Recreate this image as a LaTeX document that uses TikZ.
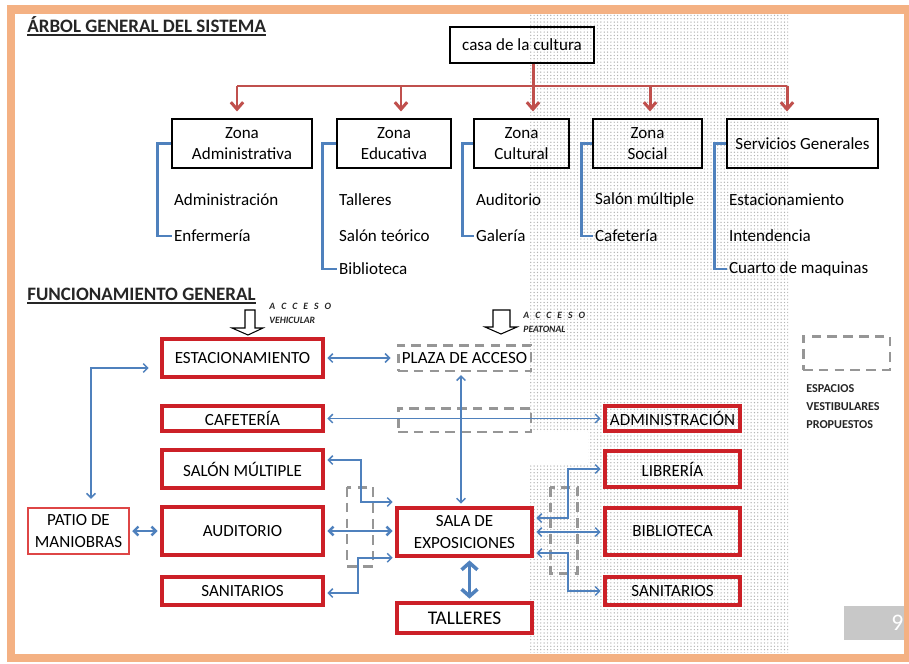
\documentclass[tikz,border=0pt]{standalone}
\usepackage{fontspec}
\setmainfont{Carlito}
\usetikzlibrary{arrows.meta,patterns.meta}
\definecolor{marco}{RGB}{244,177,131}
\definecolor{rojoarbol}{RGB}{192,80,77}
\definecolor{azulflujo}{RGB}{79,129,189}
\definecolor{rojoesp}{RGB}{204,32,39}
\definecolor{rojopatio}{RGB}{222,70,70}
\definecolor{grisvest}{RGB}{150,150,150}
\definecolor{grispag}{RGB}{200,200,200}
\definecolor{titulogris}{RGB}{38,38,38}

\begin{document}
\begin{tikzpicture}[x=0.02cm,y=-0.02cm,
  zona/.style={draw,line width=0.6pt,inner sep=0pt,align=center,font=\fontsize{9.7}{12}\selectfont},
  item/.style={anchor=west,inner sep=1pt,font=\fontsize{9.7}{12}\selectfont},
  tree/.style={draw=rojoarbol,line width=1.7pt,>={Straight Barb[length=4pt,width=7pt]}},
  brack/.style={draw=azulflujo,line width=1.7pt},
  espacio/.style={draw=rojoesp,line width=2pt,inner sep=0pt,align=center,minimum width=3.22cm,font=\fontsize{9.7}{12}\selectfont},
  vestib/.style={draw=grisvest,line width=1.7pt,dash pattern=on 5.5pt off 3.5pt,inner sep=0pt,font=\fontsize{9.7}{12}\selectfont},
  flow/.style={draw=azulflujo,line width=0.85pt,shorten <=1.5pt,shorten >=1.5pt,>={Straight Barb[length=2.5pt,width=5pt]}},
  titulo/.style={anchor=base west,inner sep=0pt,text=titulogris,font=\fontsize{10.8}{12}\selectfont\bfseries},
  acceso/.style={anchor=west,inner sep=0pt,text=titulogris,font=\fontsize{5.5}{6}\selectfont\bfseries\itshape},
]
\fill[white] (0,0) rectangle (909,663);
\useasboundingbox (0,0) rectangle (909,663);
\fill[pattern={Dots[distance=1.9pt,radius=0.4pt]},pattern color=gray!60] (530,14) rectangle (788,652);
\fill[white] (530,432) rectangle (588,465);

\path (27,32) node[titulo] (arbol) {ÁRBOL GENERAL DEL SISTEMA};
\draw[line width=1.1pt,titulogris] ([yshift=-1.8pt]arbol.base west) -- ([yshift=-1.8pt]arbol.base east);

\path (522,45) node[zona,minimum width=2.88cm,minimum height=0.72cm] (casa) {casa de la cultura};
\path (242,143.5) node[zona,minimum width=2.8cm,minimum height=0.98cm] (zadm) {Zona\\Administrativa};
\path (394,143.5) node[zona,minimum width=2.28cm,minimum height=0.98cm] (zedu) {Zona\\Educativa};
\path (521.5,143.5) node[zona,minimum width=1.9cm,minimum height=0.98cm] (zcul) {Zona\\Cultural};
\path (647.5,143.5) node[zona,minimum width=2.18cm,minimum height=0.98cm] (zsoc) {Zona\\Social};
\path (802.5,143.5) node[zona,minimum width=3.02cm,minimum height=0.98cm] (zser) {Servicios Generales};

\coordinate (r1) at (237,86);
\coordinate (r2) at (401,86);
\coordinate (r3) at (533,86);
\coordinate (r4) at (650,86);
\coordinate (r5) at (787,86);
\draw[tree] (r1) -- (r5);
\draw[tree,->,shorten >=0.14cm] (casa.south -| r3) -- (r3 |- zcul.north);
\draw[tree,->,shorten >=0.14cm] (r1) -- (r1 |- zadm.north);
\draw[tree,->,shorten >=0.14cm] (r2) -- (r2 |- zedu.north);
\draw[tree,->,shorten >=0.14cm] (r4) -- (r4 |- zsoc.north);
\draw[tree,->,shorten >=0.14cm] (r5) -- (r5 |- zser.north);

\path (172,200) node[item] (adm1) {Administración};
\path (172,236) node[item] (adm2) {Enfermería};
\path (337,200) node[item] (edu1) {Talleres};
\path (337,236) node[item] (edu2) {Salón teórico};
\path (337,269) node[item] (edu3) {Biblioteca};
\path (474,200) node[item] (cul1) {Auditorio};
\path (474,236) node[item] (cul2) {Galería};
\path (593,200) node[item] (soc1) {Salón múltiple};
\path (593,236) node[item] (soc2) {Cafetería};
\path (727,200) node[item] (ser1) {Estacionamiento};
\path (727,236) node[item] (ser2) {Intendencia};
\path (727,269) node[item] (ser3) {Cuarto de maquinas};

\draw[brack] (zadm.west) -- ++(-14,0) |- (adm2.west);
\draw[brack] (zedu.west) -- ++(-14,0) |- (edu3.west);
\draw[brack] (zcul.west) -- ++(-11,0) |- (cul2.west);
\draw[brack] (zsoc.west) -- ++(-11,0) |- (soc2.west);
\draw[brack] (zser.west) -- ++(-12,0) |- (ser3.west);

\path (27,300) node[titulo] (func) {FUNCIONAMIENTO GENERAL};
\draw[line width=1.1pt,titulogris] ([yshift=-1.8pt]func.base west) -- ([yshift=-1.8pt]func.base east);

\draw[line width=0.6pt,fill=white] (245,310) -- (255,310) -- (255,328) -- (263,328) -- (248,335) -- (232,328) -- (245,328) -- cycle;
\path (269,306) node[acceso] (acc1) {\addfontfeature{LetterSpace=40}A C C E S O};
\path (269,320) node[acceso] (veh) {VEHICULAR};
\draw[line width=0.6pt,fill=white] (493,310) -- (510,310) -- (510,327) -- (517,327) -- (501,334) -- (485,327) -- (493,327) -- cycle;
\path (523,315) node[acceso] (acc2) {\addfontfeature{LetterSpace=40}A C C E S O};
\path (523,329) node[acceso] (peat) {PEATONAL};

\path (242.5,358) node[espacio,minimum height=0.76cm] (est) {ESTACIONAMIENTO};
\path (242.5,418.5) node[espacio,minimum height=0.5cm] (caf) {CAFETERÍA};
\path (242.5,469) node[espacio,minimum height=0.76cm] (salon) {SALÓN MÚLTIPLE};
\path (242.5,531) node[espacio,minimum height=0.96cm] (aud) {AUDITORIO};
\path (242.5,591) node[espacio,minimum height=0.56cm] (sanl) {SANITARIOS};
\path (78.5,531) node[espacio,draw=rojopatio,line width=0.7pt,minimum width=2.02cm,minimum height=0.92cm] (patio) {PATIO DE\\MANIOBRAS};
\path (464.5,532) node[espacio,minimum width=2.7cm,minimum height=0.96cm] (sala) {SALA DE\\EXPOSICIONES};
\path (464.5,618) node[espacio,minimum width=2.7cm,minimum height=0.6cm,font=\fontsize{11}{12}\selectfont] (tall) {TALLERES};
\path (672.5,418.5) node[espacio,minimum width=2.7cm,minimum height=0.5cm] (admin) {ADMINISTRACIÓN};
\path (672.5,469) node[espacio,minimum width=2.7cm,minimum height=0.72cm] (libr) {LIBRERÍA};
\path (672.5,531.5) node[espacio,minimum width=2.7cm,minimum height=0.94cm] (bibl) {BIBLIOTECA};
\path (672.5,591) node[espacio,minimum width=2.7cm,minimum height=0.56cm] (sanr) {SANITARIOS};

\path (464.5,358) node[vestib,minimum width=2.66cm,minimum height=0.52cm] (plaza) {PLAZA DE ACCESO};
\path (464.5,420) node[vestib,minimum width=2.66cm,minimum height=0.48cm] (vest1) {};
\draw[vestib] (347,487) rectangle (373,566);
\draw[vestib] (550,487) rectangle (577,573);
\path (846.5,353) node[vestib,minimum width=1.74cm,minimum height=0.68cm] (leyenda) {};
\path (806,384) node[anchor=north west,inner sep=0pt,align=left,text=titulogris,font=\fontsize{6.9}{10.2}\selectfont\bfseries] (leytxt) {ESPACIOS\\VESTIBULARES\\PROPUESTOS};

\coordinate (lv) at (361,480);
\coordinate (lw) at (358,575);
\coordinate (rv) at (568,495);
\coordinate (rw) at (568,575);
\draw[flow,<->,shorten >=0.12cm] (est) -- (plaza);
\draw[flow,<->] ([xshift=-0.07cm]sala.north) -- ([xshift=-0.07cm]plaza.south);
\draw[flow,<->] (caf) -- (admin);
\draw[flow,<->] ([shift={(-9,10)}]est.west) -| ([shift={(12.5,-6)}]patio.north);
\draw[flow,line width=1.4pt,<->] (patio) -- (aud);
\draw[flow,<->] ([yshift=0.18cm]salon.east) -| (lv) |- ([yshift=0.6cm]sala.west);
\draw[flow,line width=1.4pt,<->] (aud.east) -- (aud.east -| sala.west);
\draw[flow,<->] ([yshift=-0.04cm]sanl.east) -| (lw) |- (sala.south west);
\draw[flow,<->] ([yshift=0.28cm]sala.east) -| (rv) |- (libr.west);
\draw[flow,<->] (sala.east) -- (sala.east -| bibl.west);
\draw[flow,<->] ([yshift=-0.42cm]sala.east) -| (rw) |- (sanr.west);
\draw[flow,line width=2pt,>={Straight Barb[length=4pt,width=9pt]},<->] ([xshift=0.1cm]sala.south) -- ([xshift=0.1cm]tall.north);

\fill[grispag] (844,606) rectangle (909,640);
\path (891,623) node[anchor=west,inner sep=0pt,text=white,font=\fontsize{13.5}{14}\selectfont] (pagina) {99};
\draw[marco,line width=4.6pt] (11,9.5) rectangle (908,658);
\end{tikzpicture}
\end{document}
